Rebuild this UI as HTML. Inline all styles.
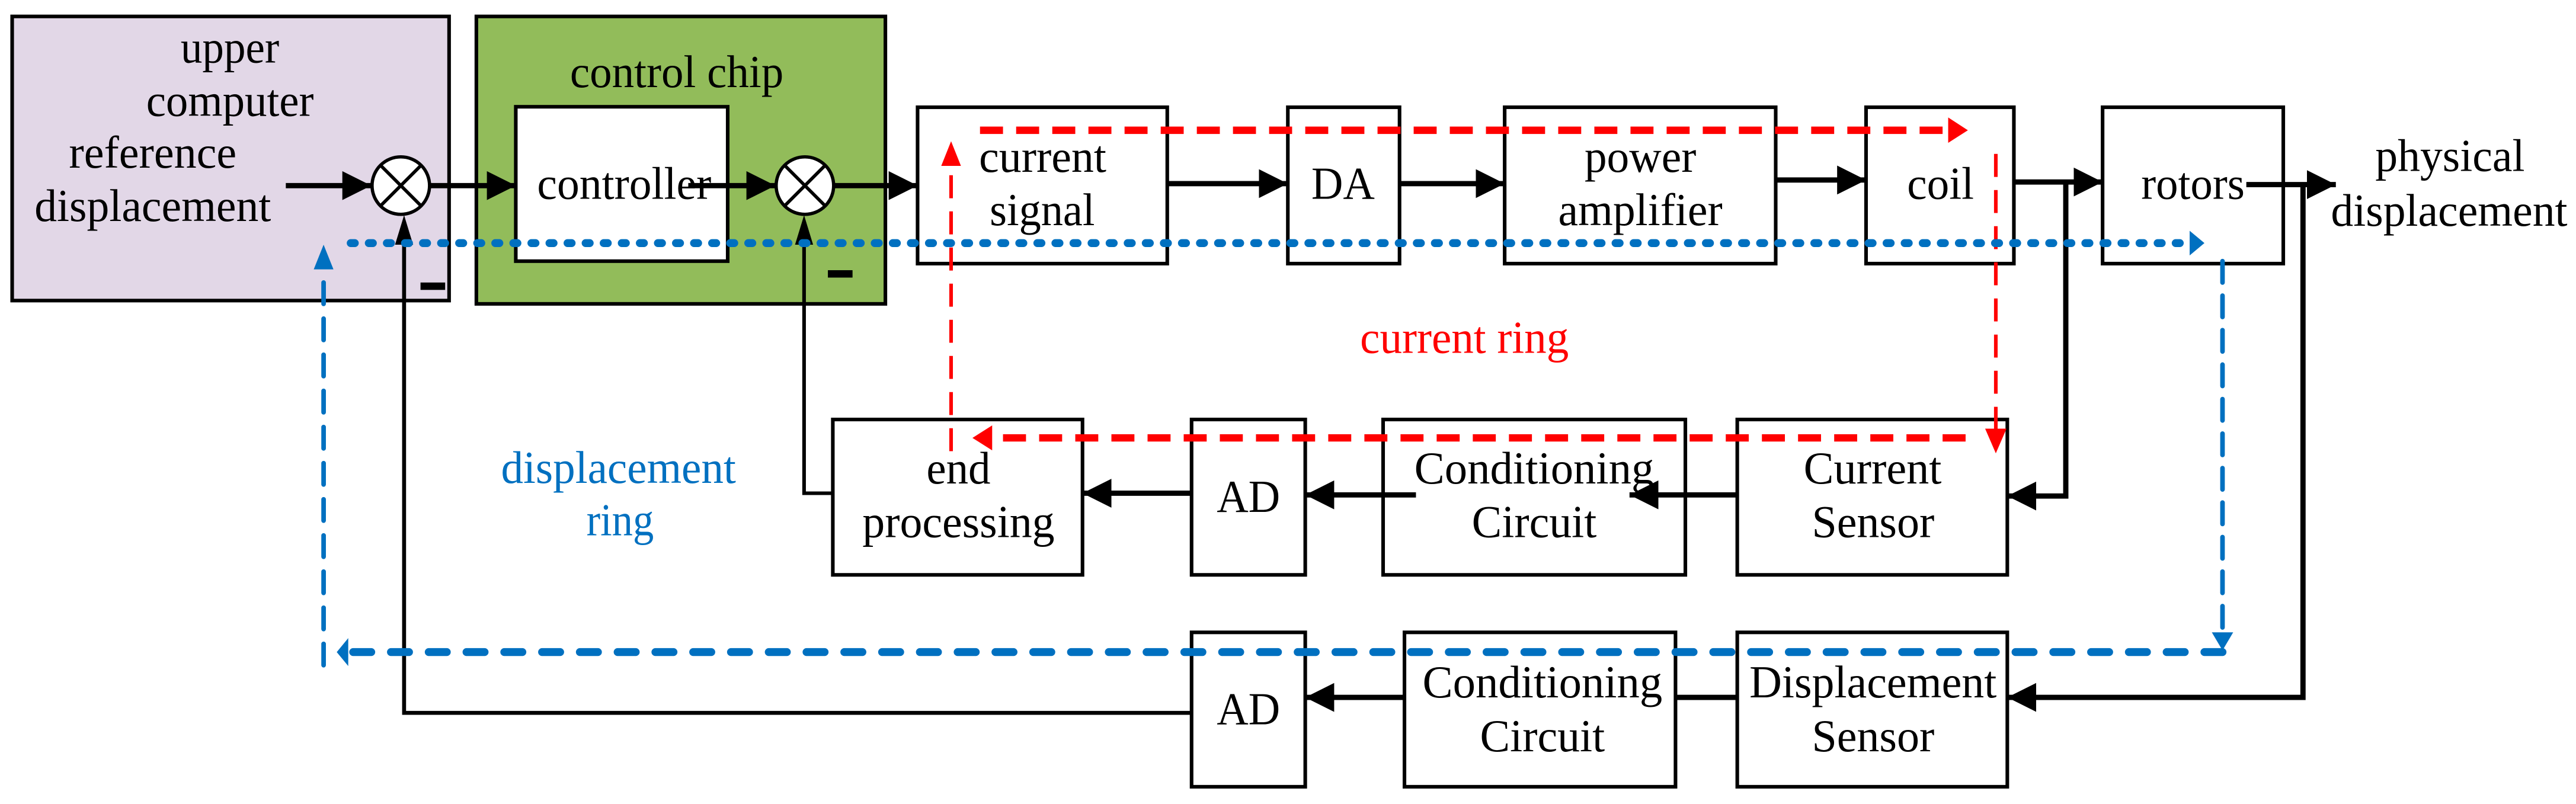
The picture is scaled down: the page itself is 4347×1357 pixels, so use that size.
<!DOCTYPE html>
<html><head><meta charset="utf-8"><style>
html,body{margin:0;padding:0;background:#fff;}
svg{display:block;}
text{font-family:"Liberation Serif",serif;font-size:28px;}
</style></head><body>
<svg width="4347" height="1357" viewBox="0 0 1568.2 489.5" preserveAspectRatio="none" xmlns="http://www.w3.org/2000/svg">
<defs>
<marker id="ab" viewBox="0 0 10 10" refX="10" refY="5" markerWidth="5.5" markerHeight="5.5" orient="auto" markerUnits="strokeWidth"><path d="M0,0L10,5L0,10z" fill="#000"/></marker>
</defs>
<rect x="7.4" y="10" width="266" height="173" fill="#e2d7e7" stroke="#000" stroke-width="2.2"/>
<rect x="290" y="10" width="249" height="175" fill="#92bc5a" stroke="#000" stroke-width="2.2"/>
<rect x="314" y="65" width="129" height="94" fill="#fff" stroke="#000" stroke-width="2.2"/>
<g fill="#fff" stroke="#000" stroke-width="2.2">
<rect x="558.6" y="65.3" width="152" height="95.2"/>
<rect x="784" y="65.3" width="68" height="95.2"/>
<rect x="916" y="65.3" width="165" height="95.2"/>
<rect x="1136" y="65.3" width="90" height="95.2"/>
<rect x="1280" y="65.3" width="110" height="95.2"/>
<rect x="507" y="255.4" width="152" height="94.6"/>
<rect x="725.4" y="255.4" width="69.2" height="94.6"/>
<rect x="842" y="255.4" width="184" height="94.6"/>
<rect x="1057.6" y="255.4" width="164.4" height="94.6"/>
<rect x="725.4" y="385" width="69.2" height="94"/>
<rect x="855" y="385" width="165" height="94"/>
<rect x="1057.6" y="385" width="164.4" height="94"/>
</g>
<g stroke="#000" stroke-width="2" fill="#fff">
<circle cx="244" cy="113" r="17.5"/>
<line x1="231.6" y1="100.6" x2="256.4" y2="125.4"/><line x1="256.4" y1="100.6" x2="231.6" y2="125.4"/>
<circle cx="490" cy="113" r="17.5"/>
<line x1="477.6" y1="100.6" x2="502.4" y2="125.4"/><line x1="502.4" y1="100.6" x2="477.6" y2="125.4"/>
</g>
<rect x="256" y="172" width="15" height="4.5" fill="#000"/>
<rect x="504" y="164.5" width="15" height="4.5" fill="#000"/>
<g stroke="#000" stroke-width="3.2" fill="none" marker-end="url(#ab)">
<line x1="174" y1="113" x2="226" y2="113"/>
<line x1="262" y1="113" x2="314" y2="113"/>
<line x1="419" y1="113" x2="472" y2="113"/>
<line x1="507" y1="113" x2="558.6" y2="113"/>
<line x1="710.5" y1="111.8" x2="784" y2="111.8"/>
<line x1="852" y1="111.8" x2="916" y2="111.8"/>
<line x1="1081" y1="109.6" x2="1136" y2="109.6"/>
<line x1="1226" y1="110.8" x2="1280" y2="110.8"/>
<polyline points="1257.6,110.8 1257.6,302 1222,302"/>
<line x1="1367.5" y1="112.4" x2="1422" y2="112.4"/>
<polyline points="1402,112.4 1402,424.6 1222,424.6"/>
<line x1="1057.6" y1="301.3" x2="992" y2="301.3"/>
<line x1="862" y1="301.3" x2="794.6" y2="301.3"/>
<line x1="725.4" y1="300.3" x2="659" y2="300.3"/>
<line x1="855" y1="424.6" x2="794.6" y2="424.6"/>
</g>
<polyline points="507,300.3 489.5,300.3 489.5,145" stroke="#000" stroke-width="2.2" fill="none"/>
<path d="M489.5,131 L484,149 L495,149z" fill="#000"/>
<line x1="1020" y1="424.6" x2="1057.6" y2="424.6" stroke="#000" stroke-width="3.2"/>
<polyline points="725.4,434 246,434 246,145" stroke="#000" stroke-width="2.4" fill="none"/>
<path d="M246,131 L240.5,149 L251.5,149z" fill="#000"/>
<g stroke="#f00" stroke-width="4.5" fill="none" stroke-dasharray="14,8">
<line x1="596.6" y1="79.3" x2="1188" y2="79.3"/>
<line x1="1196.6" y1="266.6" x2="602" y2="266.6"/>
</g>
<g stroke="#f00" stroke-width="2.2" fill="none" stroke-dasharray="14,8">
<line x1="1215" y1="93.7" x2="1215" y2="264"/>
<line x1="579" y1="274.7" x2="579" y2="100"/>
</g>
<path d="M1198,79.3 L1186,71.5 L1186,87z" fill="#f00"/>
<path d="M592,266.6 L604,259 L604,274.2z" fill="#f00"/>
<path d="M1215,276 L1208.5,261 L1221.5,261z" fill="#f00"/>
<path d="M579,86 L573,101 L585,101z" fill="#f00"/>
<line x1="213.5" y1="148" x2="1334" y2="148" stroke="#0070c0" stroke-width="4.8" stroke-dasharray="2.5,8.5" stroke-linecap="round"/>
<path d="M1342,148 L1333,140.5 L1333,155.5z" fill="#0070c0"/>
<line x1="1353" y1="159" x2="1353" y2="385" stroke="#0070c0" stroke-width="2.8" stroke-dasharray="13,8" stroke-linecap="round"/>
<path d="M1353,396 L1346.5,385 L1359.5,385z" fill="#0070c0"/>
<line x1="1353" y1="397" x2="213" y2="397" stroke="#0070c0" stroke-width="4.8" stroke-dasharray="11,12" stroke-linecap="round"/>
<path d="M205,397 L212,388.5 L212,405.5z" fill="#0070c0"/>
<line x1="197" y1="405" x2="197" y2="163" stroke="#0070c0" stroke-width="2.8" stroke-dasharray="13,9" stroke-linecap="round"/>
<path d="M197,149 L191,164 L203,164z" fill="#0070c0"/>
<g fill="#000">
<text x="110" y="38" textLength="60" lengthAdjust="spacingAndGlyphs">upper</text>
<text x="89" y="70.5" textLength="102" lengthAdjust="spacingAndGlyphs">computer</text>
<text x="42" y="102" textLength="102" lengthAdjust="spacingAndGlyphs">reference</text>
<text x="21" y="134.5" textLength="144" lengthAdjust="spacingAndGlyphs">displacement</text>
<text x="347" y="53" textLength="130" lengthAdjust="spacingAndGlyphs">control chip</text>
<text x="327" y="121" textLength="106" lengthAdjust="spacingAndGlyphs">controller</text>
<text x="596" y="104.6" textLength="77.5" lengthAdjust="spacingAndGlyphs">current</text>
<text x="602.5" y="137" textLength="64" lengthAdjust="spacingAndGlyphs">signal</text>
<text x="798.3" y="121" textLength="38.6" lengthAdjust="spacingAndGlyphs">DA</text>
<text x="964.6" y="104.6" textLength="68" lengthAdjust="spacingAndGlyphs">power</text>
<text x="948.6" y="137" textLength="100" lengthAdjust="spacingAndGlyphs">amplifier</text>
<text x="1161" y="121" textLength="40.7" lengthAdjust="spacingAndGlyphs">coil</text>
<text x="1303.5" y="121" textLength="63" lengthAdjust="spacingAndGlyphs">rotors</text>
<text x="1446" y="104" textLength="91" lengthAdjust="spacingAndGlyphs">physical</text>
<text x="1419" y="137.4" textLength="144" lengthAdjust="spacingAndGlyphs">displacement</text>
<text x="564" y="294.4" textLength="39" lengthAdjust="spacingAndGlyphs">end</text>
<text x="525" y="327" textLength="117" lengthAdjust="spacingAndGlyphs">processing</text>
<text x="740.7" y="311.6" textLength="38.6" lengthAdjust="spacingAndGlyphs">AD</text>
<text x="861" y="294.4" textLength="146" lengthAdjust="spacingAndGlyphs">Conditioning</text>
<text x="896" y="327" textLength="76" lengthAdjust="spacingAndGlyphs">Circuit</text>
<text x="1098" y="294.4" textLength="84" lengthAdjust="spacingAndGlyphs">Current</text>
<text x="1103" y="327" textLength="74.6" lengthAdjust="spacingAndGlyphs">Sensor</text>
<text x="740.7" y="441" textLength="38.6" lengthAdjust="spacingAndGlyphs">AD</text>
<text x="866" y="424.6" textLength="146" lengthAdjust="spacingAndGlyphs">Conditioning</text>
<text x="901" y="457.4" textLength="76" lengthAdjust="spacingAndGlyphs">Circuit</text>
<text x="1065" y="424.6" textLength="150.5" lengthAdjust="spacingAndGlyphs">Displacement</text>
<text x="1103" y="457.4" textLength="74.6" lengthAdjust="spacingAndGlyphs">Sensor</text>
</g>
<text x="828" y="214.8" fill="#f00" textLength="127" lengthAdjust="spacingAndGlyphs">current ring</text>
<text x="305" y="294" fill="#0070c0" textLength="143" lengthAdjust="spacingAndGlyphs">displacement</text>
<text x="357" y="326" fill="#0070c0" textLength="41" lengthAdjust="spacingAndGlyphs">ring</text>
</svg>
</body></html>
